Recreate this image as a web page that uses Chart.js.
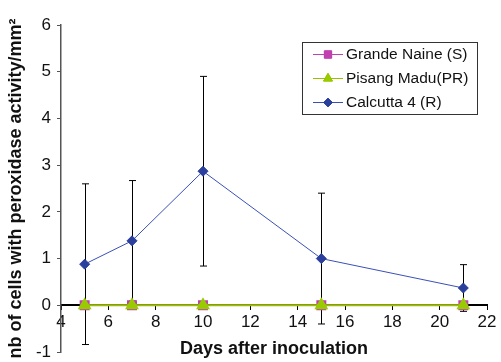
<!DOCTYPE html>
<html>
<head>
<meta charset="utf-8">
<script src="https://cdn.jsdelivr.net/npm/chart.js@4/dist/chart.umd.min.js"></script>
<style>
  html, body { margin: 0; padding: 0; background: #fff; }
  canvas { display: block; }
</style>
</head>
<body>
<canvas id="chart" width="501" height="362"></canvas>
<script>
// days after inoculation, and mean nb of cells per mm2 for each cultivar
var days = [5, 7, 10, 15, 21];
var grandeNaine = [0, 0, 0, 0, 0];
var pisangMadu = [0, 0, 0, 0, 0];
var calcutta = [0.88, 1.38, 2.87, 1.0, 0.37];
// error bars of Calcutta 4 (+/- value)
var calcuttaErr = [1.72, 1.29, 2.03, 1.4, 0.5];

var xTicks = [4, 6, 8, 10, 12, 14, 16, 18, 20, 22];
var yTicks = [-1, 0, 1, 2, 3, 4, 5, 6];

function toPoints(vals) {
  return days.map(function(d, i) { return {x: d, y: vals[i]}; });
}

// error bars, drawn with the chart's own scales
var errorBars = {
  id: 'errorBars',
  beforeDatasetsDraw: function(chart) {
    var ctx = chart.ctx;
    var xs = chart.scales.x, ys = chart.scales.y;
    ctx.save();
    ctx.strokeStyle = '#000';
    ctx.lineWidth = 1;
    for (var i = 0; i < days.length; i++) {
      var px = Math.round(xs.getPixelForValue(days[i])) + 0.5;
      var top = ys.getPixelForValue(calcutta[i] + calcuttaErr[i]);
      var bot = ys.getPixelForValue(calcutta[i] - calcuttaErr[i]);
      ctx.beginPath();
      ctx.moveTo(px, top); ctx.lineTo(px, bot);
      ctx.moveTo(px - 3.5, top); ctx.lineTo(px + 3.5, top);
      ctx.moveTo(px - 3.5, bot); ctx.lineTo(px + 3.5, bot);
      ctx.stroke();
    }
    ctx.restore();
  }
};

// boxed legend with line + marker samples, top right of the plot
var boxLegend = {
  id: 'boxLegend',
  afterDraw: function(chart) {
    var ctx = chart.ctx;
    var bx = 302, by = 42, bw = 175, bh = 72;
    ctx.save();
    ctx.fillStyle = '#fff';
    ctx.fillRect(bx, by, bw, bh);
    ctx.strokeStyle = '#333';
    ctx.lineWidth = 1;
    ctx.strokeRect(bx + 0.5, by + 0.5, bw, bh);
    ctx.font = '15.5px "Liberation Sans", Arial, sans-serif';
    ctx.textBaseline = 'middle';
    chart.data.datasets.forEach(function(ds, row) {
      var y = by + 12 + row * 24;
      ctx.strokeStyle = ds.borderColor;
      ctx.lineWidth = 1;
      ctx.beginPath();
      ctx.moveTo(313, y + 0.5); ctx.lineTo(343, y + 0.5);
      ctx.stroke();
      Chart.helpers.drawPoint(ctx, {
        pointStyle: ds.pointStyle, rotation: 0, radius: ds.pointRadius * 0.85, borderWidth: 1
      }, 328, y + 0.5);
      ctx.fillStyle = ds.pointBackgroundColor;
      ctx.strokeStyle = ds.pointBorderColor;
      ctx.fill();
      ctx.stroke();
      ctx.fillStyle = '#111';
      ctx.fillText(ds.label, 346, y + 1);
    });
    ctx.restore();
  }
};

var font = '"Liberation Sans", Arial, sans-serif';

new Chart(document.getElementById('chart'), {
  type: 'line',
  data: {
    datasets: [
      {
        label: 'Grande Naine (S)',
        data: toPoints(grandeNaine),
        borderColor: '#c040b0',
        backgroundColor: '#c040b0',
        pointBackgroundColor: '#c040b0',
        pointBorderColor: '#c040b0',
        pointStyle: 'rect',
        pointRadius: 6,
        borderWidth: 1.5,
        order: 1
      },
      {
        label: 'Pisang Madu(PR)',
        data: toPoints(pisangMadu),
        borderColor: '#99c000',
        backgroundColor: '#99cc00',
        pointBackgroundColor: '#99cc00',
        pointBorderColor: '#99cc00',
        pointStyle: 'triangle',
        pointRadius: 6,
        borderWidth: 2,
        order: 0
      },
      {
        label: 'Calcutta 4 (R)',
        data: toPoints(calcutta),
        borderColor: '#3a50b8',
        backgroundColor: '#2b3f9c',
        pointBackgroundColor: '#2b3f9c',
        pointBorderColor: '#2b3f9c',
        pointStyle: 'rectRot',
        pointRadius: 5,
        borderWidth: 1,
        order: 2
      }
    ]
  },
  options: {
    responsive: false,
    animation: false,
    layout: { padding: { top: 25, right: 14, bottom: 10, left: 0 } },
    plugins: {
      legend: { display: false },
      tooltip: { enabled: false }
    },
    scales: {
      x: {
        type: 'linear',
        position: { y: 0 },
        min: 4,
        max: 22,
        afterBuildTicks: function(scale) {
          scale.ticks = xTicks.map(function(v) { return {value: v}; });
        },
        grid: { drawOnChartArea: false, drawTicks: true, tickLength: 4, color: '#000' },
        border: { color: '#000', width: 2 },
        ticks: { color: '#111', padding: 3, font: { size: 17, family: font } },
        title: {
          display: true,
          text: 'Days after inoculation',
          color: '#111',
          padding: { top: 3, bottom: 0 },
          font: { size: 18, weight: 'bold', family: font }
        }
      },
      y: {
        type: 'linear',
        min: -1,
        max: 6,
        afterBuildTicks: function(scale) {
          scale.ticks = yTicks.map(function(v) { return {value: v}; });
        },
        afterFit: function(scale) {
          scale.width = 61;
          scale.paddingTop = 0;
          scale.paddingBottom = 0;
        },
        grid: { drawOnChartArea: false, drawTicks: true, tickLength: 4, color: '#555' },
        border: { color: '#555', width: 1.5 },
        ticks: { color: '#111', padding: 6, font: { size: 17, family: font } },
        title: {
          display: true,
          text: 'nb of cells with peroxidase activity/mm²',
          color: '#111',
          padding: { top: 5, bottom: 0 },
          font: { size: 18, weight: 'bold', family: font }
        }
      }
    }
  },
  plugins: [errorBars, boxLegend]
});
</script>
</body>
</html>
